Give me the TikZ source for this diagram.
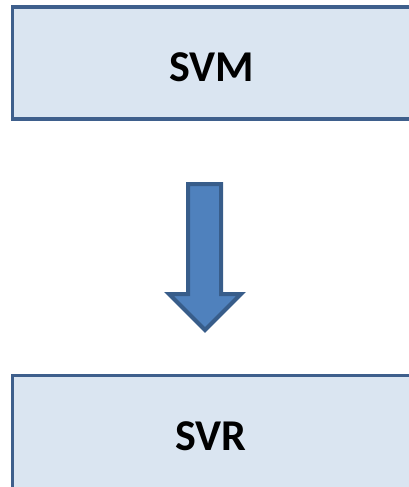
\documentclass[tikz,border=0pt]{standalone}
\usepackage{fontspec}
\setmainfont{Carlito}
\definecolor{boxfill}{HTML}{DAE5F1}
\definecolor{boxline}{HTML}{3E5F8C}
\definecolor{arrfill}{HTML}{4F81BD}
\definecolor{arrline}{HTML}{385D8A}
\tikzset{
  stagebox/.style={draw=boxline, fill=boxfill, line width=3.5pt},
  stagelabel/.style={font=\fontsize{44}{50}\selectfont\bfseries, text=black, inner sep=0pt},
  blockarrow/.style={draw=arrline, fill=arrfill, line width=4pt, line join=miter}
}
\begin{document}
\begin{tikzpicture}[x=1pt,y=-1pt]
\useasboundingbox (0,0) rectangle (409,487);
\clip (0,0) rectangle (409,487);
\draw[stagebox] (12.5,7) rectangle (425,119);
\draw[stagebox] (12.5,375.5) rectangle (425,500);
\node[stagelabel] (svm) at (212,67) {SVM};
\node[stagelabel] (svr) at (211,436) {SVR};
\draw[blockarrow] (188,184) -- (221,184) -- (221,294) -- (241,294) -- (205,330) -- (169,294) -- (188,294) -- cycle;
\end{tikzpicture}
\end{document}
